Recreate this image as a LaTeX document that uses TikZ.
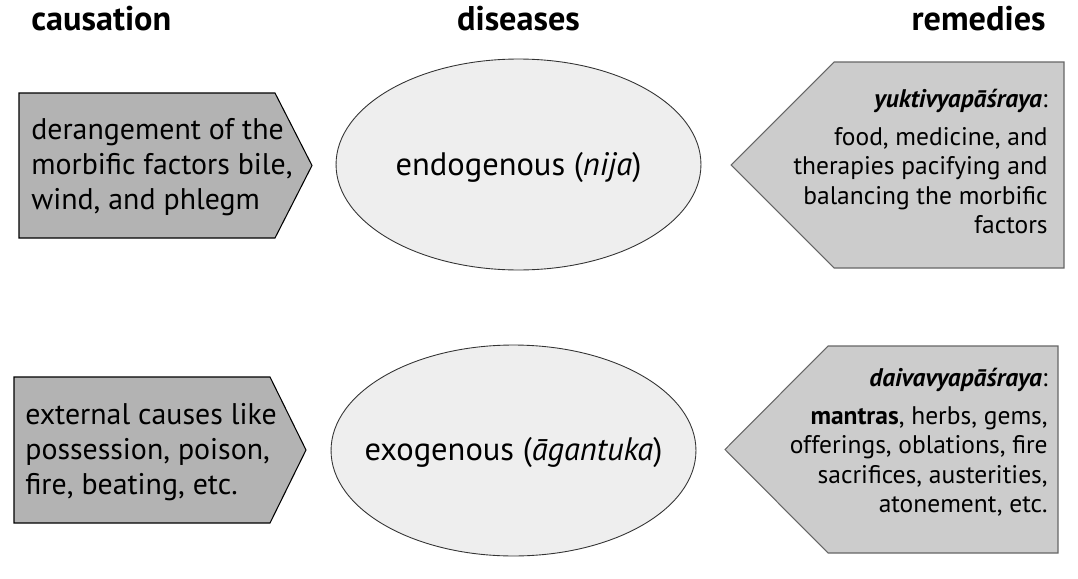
\documentclass[tikz,border=0pt]{standalone}
\usepackage{fontspec}
\setmainfont{PT Sans}
\usetikzlibrary{shapes.geometric}
\definecolor{causefill}{RGB}{179,179,179}
\definecolor{remedyfill}{RGB}{204,204,204}
\definecolor{diseasefill}{RGB}{238,238,238}

\begin{document}
\begin{tikzpicture}[x=0.02cm,y=-0.02cm,
  head/.style={font=\fontsize{19.5}{24}\selectfont\bfseries,inner sep=0pt},
  cause/.style={fill=causefill,draw=black,line width=0.6pt},
  causetext/.style={font=\fontsize{17}{19.9}\selectfont,align=left,inner sep=0pt,anchor=west},
  disease/.style={ellipse,draw=black!80,line width=0.5pt,fill=diseasefill,minimum width=7.3cm,minimum height=4.22cm,inner sep=0pt},
  diseasetext/.style={font=\fontsize{18.5}{23}\selectfont,inner sep=0pt},
  remedy/.style={fill=remedyfill,draw=black!60,line width=0.6pt},
  remedytext/.style={font=\fontsize{14.5}{16.8}\selectfont,align=right,inner sep=0pt,anchor=north east}]

\useasboundingbox (0,0) rectangle (1078,578);

% column heads
\node[head,anchor=base west] (hcause) at (31,31) {causation};
\node[head,anchor=base] (hdisease) at (518.5,31) {diseases};
\node[head,anchor=base east] (hremedy) at (1046,31) {remedies};

% ---- causes (left) ----
\draw[cause] (19,93) -- (275,93) -- (312,165.5) -- (275,238) -- (19,238) -- cycle;
\node[causetext] (endocause) at (31,167) {derangement of the\\morbific factors bile,\\wind, and phlegm};

\draw[cause] (14,377) -- (270,377) -- (306,450) -- (270,523) -- (14,523) -- cycle;
\node[causetext] (exocause) at (25,452) {external causes like\\possession, poison,\\fire, beating, etc.};

% ---- diseases (middle) ----
\node[disease] (endo) at (518.5,164.5) {};
\node[diseasetext] (endolabel) at ([yshift=-0.06cm]endo.center) {endogenous (\textit{nija})};
\node[disease] (exo) at (513.5,450.5) {};
\node[diseasetext] (exolabel) at ([yshift=-0.04cm]exo.center) {exogenous (\textit{āgantuka})};

% ---- remedies (right) ----
\draw[remedy] (834,62) -- (1064,62) -- (1064,268) -- (834,268) -- (731,165) -- cycle;
\node[remedytext] (yukti) at (1048,89)
  {\textbf{\textit{yuktivyapāśraya}}:\\[4.5pt]food, medicine, and\\therapies pacifying and\\balancing the morbific\\factors};

\draw[remedy] (828,346) -- (1058,346) -- (1058,553) -- (828,553) -- (725,449.5) -- cycle;
\node[remedytext] (daiva) at (1048,368)
  {\textbf{\textit{daivavyapāśraya}}:\\[4.5pt]\textbf{mantras}, herbs, gems,\\offerings, oblations, fire\\sacrifices, austerities,\\atonement, etc.};
\end{tikzpicture}
\end{document}
